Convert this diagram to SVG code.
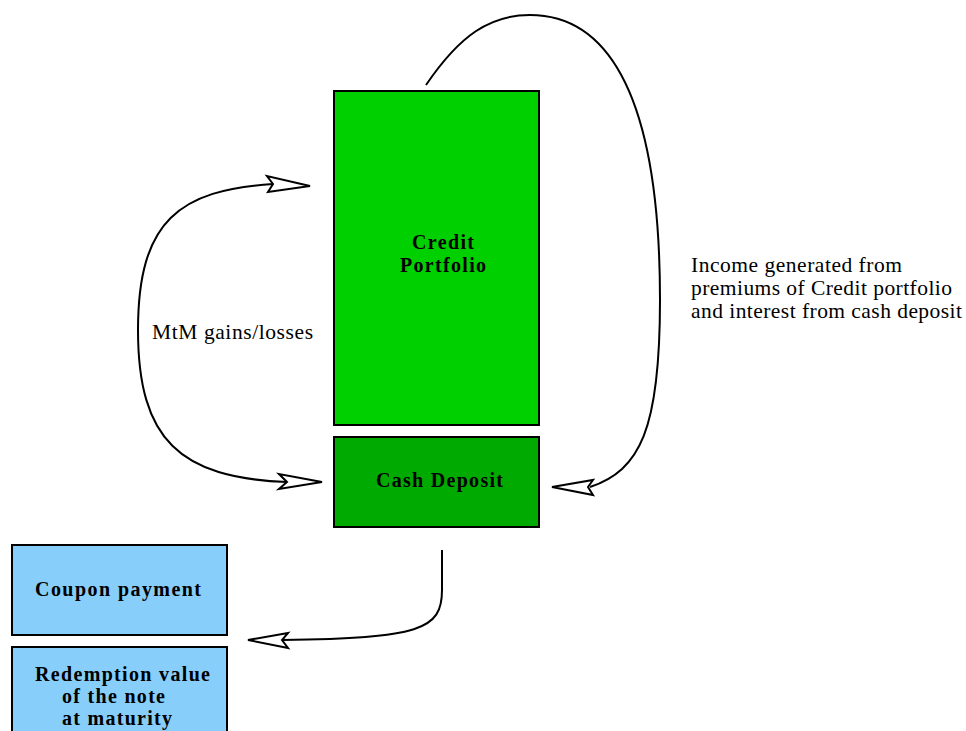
<svg xmlns="http://www.w3.org/2000/svg" width="966" height="731" viewBox="0 0 966 731">
<style>
.box{stroke:#000;stroke-width:2}
.b{font-family:"Liberation Serif",serif;font-weight:bold;font-size:20px;fill:#000}
.n{font-family:"Liberation Serif",serif;font-size:21.5px;fill:#000}
.c{fill:none;stroke:#000;stroke-width:2}
.ah{fill:#fff;stroke:#000;stroke-width:2;stroke-linejoin:miter}
</style>
<rect width="966" height="731" fill="#fff"/>
<g id="credit-portfolio">
<rect class="box" x="334" y="91" width="205" height="334" fill="#00d000"/>
<text class="b" x="412" y="249" textLength="62" lengthAdjust="spacing">Credit</text>
<text class="b" x="400" y="272" textLength="86" lengthAdjust="spacing">Portfolio</text>
</g>
<g id="cash-deposit">
<rect class="box" x="334" y="437" width="205" height="90" fill="#00aa00"/>
<text class="b" x="376" y="487" textLength="127" lengthAdjust="spacing">Cash Deposit</text>
</g>
<g id="coupon-payment">
<rect class="box" x="12" y="545" width="215" height="90" fill="#87cefa"/>
<text class="b" x="35" y="596" textLength="166" lengthAdjust="spacing">Coupon payment</text>
</g>
<g id="redemption">
<rect class="box" x="12" y="647" width="215" height="90" fill="#87cefa"/>
<text class="b" x="35" y="681" textLength="175" lengthAdjust="spacing">Redemption value</text>
<text class="b" x="62" y="703" textLength="103" lengthAdjust="spacing">of the note</text>
<text class="b" x="62" y="725" textLength="110" lengthAdjust="spacing">at maturity</text>
</g>
<g id="connectors">
<path class="c" d="M273,184 C180,190 138,220 138,330 C138,440 180,478 287,482"/>
<polygon class="ah" points="310,186 267,176 273,184 268,192"/>
<polygon class="ah" points="322,482 279,474 287,482 279,489"/>
<path class="c" d="M426,85 C460,35 490,15 530,15 C600,15 660,80 660,300 C660,430 640,470 590,487"/>
<polygon class="ah" points="552,487 593,480 588,487 593,495"/>
<path class="c" d="M442,550 L442,590 C442,630 420,638 282,640"/>
<polygon class="ah" points="248,640 288,633 282,640 288,648"/>
<text class="n" x="152" y="339" textLength="161" lengthAdjust="spacing">MtM gains/losses</text>
<text class="n" x="691" y="272" textLength="211" lengthAdjust="spacing">Income generated from</text>
<text class="n" x="691" y="295" textLength="261" lengthAdjust="spacing">premiums of Credit portfolio</text>
<text class="n" x="691" y="318" textLength="271" lengthAdjust="spacing">and interest from cash deposit</text>
</g>
</svg>
